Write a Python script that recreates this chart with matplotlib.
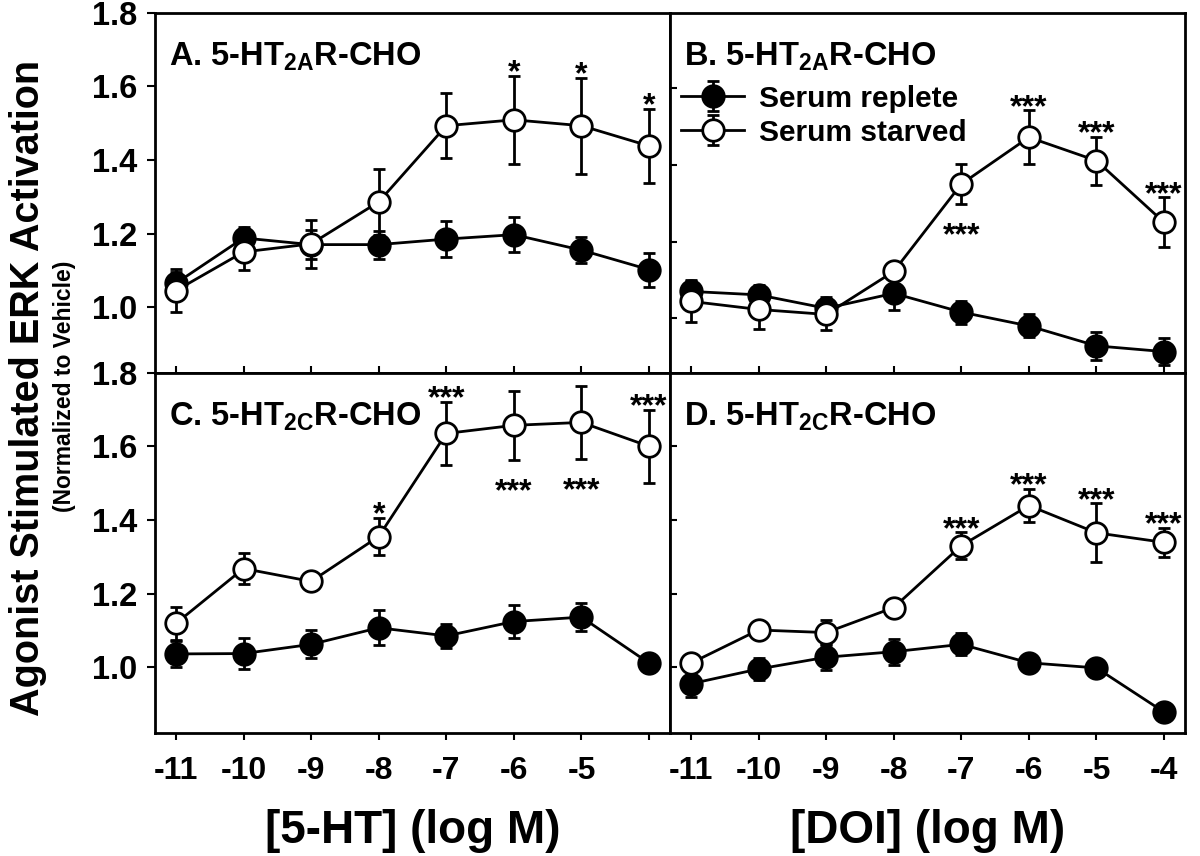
import matplotlib
matplotlib.use('Agg')
import matplotlib.pyplot as plt
from matplotlib import font_manager

# ---------------------------------------------------------------
# Data — x is log molar agonist concentration
# ---------------------------------------------------------------
dose = [-11, -10, -9, -8, -7, -6, -5, -4]

# A. 5-HT2A-CHO, 5-HT
a_replete     = [1.065, 1.188, 1.170, 1.170, 1.185, 1.197, 1.155, 1.102]
a_replete_err = [0.030, 0.030, 0.040, 0.038, 0.050, 0.048, 0.036, 0.046]
a_starved     = [1.045, 1.150, 1.172, 1.286, 1.493, 1.509, 1.493, 1.438]
a_starved_err = [0.058, 0.050, 0.065, 0.089, 0.088, 0.120, 0.130, 0.100]

# B. 5-HT2A-CHO, DOI
b_replete     = [1.070, 1.061, 1.026, 1.065, 1.016, 0.980, 0.928, 0.913]
b_replete_err = [0.028, 0.026, 0.030, 0.043, 0.030, 0.030, 0.036, 0.035]
b_starved     = [1.044, 1.023, 1.010, 1.122, 1.350, 1.472, 1.411, 1.250]
b_starved_err = [0.055, 0.050, 0.040, 0.010, 0.052, 0.070, 0.063, 0.065]

# C. 5-HT2C-CHO, 5-HT
c_replete     = [1.036, 1.037, 1.062, 1.107, 1.085, 1.124, 1.136, 1.011]
c_replete_err = [0.035, 0.043, 0.038, 0.048, 0.032, 0.045, 0.037, 0.025]
c_starved     = [1.119, 1.268, 1.233, 1.355, 1.635, 1.657, 1.665, 1.600]
c_starved_err = [0.045, 0.041, 0.010, 0.050, 0.085, 0.094, 0.100, 0.100]

# D. 5-HT2C-CHO, DOI
d_replete     = [0.955, 0.995, 1.027, 1.042, 1.062, 1.012, 0.998, 0.878]
d_replete_err = [0.035, 0.030, 0.035, 0.035, 0.030, 0.020, 0.020, 0.025]
d_starved     = [1.011, 1.101, 1.094, 1.162, 1.330, 1.439, 1.365, 1.339]
d_starved_err = [0.010, 0.010, 0.033, 0.020, 0.036, 0.045, 0.080, 0.040]

# significance marks on the starved series: (dose, text, above?)
a_stars = [(-6, '*', True), (-5, '*', True), (-4, '*', True)]
b_stars = [(-7, '***', False), (-6, '***', True), (-5, '***', True), (-4, '***', True)]
c_stars = [(-8, '*', True), (-7, '***', True), (-6, '***', False),
           (-5, '***', False), (-4, '***', True)]
d_stars = [(-7, '***', True), (-6, '***', True), (-5, '***', True), (-4, '***', True)]

titles = [r'A. 5-HT$_{\mathrm{2A}}$R-CHO', r'B. 5-HT$_{\mathrm{2A}}$R-CHO',
          r'C. 5-HT$_{\mathrm{2C}}$R-CHO', r'D. 5-HT$_{\mathrm{2C}}$R-CHO']
y_ticks = [1.0, 1.2, 1.4, 1.6, 1.8]
x_ticks = dose

# ---------------------------------------------------------------
# Fonts: condensed bold sans if there is one, else Liberation Sans
# ---------------------------------------------------------------
names = {f.name for f in font_manager.fontManager.ttflist}
FONT = 'Liberation Sans Narrow' if 'Liberation Sans Narrow' in names else 'Liberation Sans'

plt.rcParams['font.family'] = [FONT, 'DejaVu Sans']
plt.rcParams['font.weight'] = 'bold'
plt.rcParams['mathtext.fontset'] = 'custom'
plt.rcParams['mathtext.rm'] = f'{FONT}:bold'
plt.rcParams['mathtext.it'] = f'{FONT}:bold'
plt.rcParams['mathtext.bf'] = f'{FONT}:bold'
plt.rcParams['axes.linewidth'] = 2.0

# ---------------------------------------------------------------
# Layout (pixel frame of the 1200 x 856 picture)
# ---------------------------------------------------------------
W, H = 1200, 856
X_LEFT, X_MID, X_RIGHT = 155, 670, 1185
Y_TOP, Y_MID, Y_BOT = 12.7, 372.7, 732.7


def rect(x0, x1, y0, y1):
    return [x0 / W, 1 - y1 / H, (x1 - x0) / W, (y1 - y0) / H]


fig = plt.figure(figsize=(W / 100, H / 100), dpi=100)
ax_a = fig.add_axes(rect(X_LEFT, X_MID, Y_TOP, Y_MID))
ax_b = fig.add_axes(rect(X_MID, X_RIGHT, Y_TOP, Y_MID))
ax_c = fig.add_axes(rect(X_LEFT, X_MID, Y_MID, Y_BOT))
ax_d = fig.add_axes(rect(X_MID, X_RIGHT, Y_MID, Y_BOT))

panels = [
    (ax_a, a_replete, a_replete_err, a_starved, a_starved_err, a_stars, (0.822, 1.8)),
    (ax_b, b_replete, b_replete_err, b_starved, b_starved_err, b_stars, (0.858, 1.797)),
    (ax_c, c_replete, c_replete_err, c_starved, c_starved_err, c_stars, (0.822, 1.8)),
    (ax_d, d_replete, d_replete_err, d_starved, d_starved_err, d_stars, (0.822, 1.8)),
]

for i, (ax, rep, rep_e, sta, sta_e, stars, ylim) in enumerate(panels):
    ax.errorbar(dose, rep, yerr=rep_e, color='black', lw=2, marker='o', ms=15.5,
                mfc='black', mec='black', mew=2, capsize=4.5, capthick=2,
                elinewidth=2, label='Serum replete', zorder=3)
    ax.errorbar(dose, sta, yerr=sta_e, color='black', lw=2, marker='o', ms=15.5,
                mfc='white', mec='black', mew=2, capsize=4.5, capthick=2,
                elinewidth=2, label='Serum starved', zorder=4)

    for x, txt, above in stars:
        j = dose.index(x)
        if above:
            y, dy = sta[j] + sta_e[j], -4
        else:
            y, dy = sta[j] - sta_e[j], -29
        ax.annotate(txt, xy=(x, y), xytext=(0, dy), textcoords='offset points',
                    ha='center', va='baseline', fontsize=23,
                    family='Liberation Sans', fontweight='bold', zorder=5)

    ax.set_xlim(-11.31, -3.69)
    ax.set_ylim(*ylim)
    ax.set_xticks(x_ticks)
    ax.text(0.027, 0.852, titles[i], transform=ax.transAxes, fontsize=23.5,
            ha='left', va='baseline')

    top_row = i < 2
    left_col = i % 2 == 0
    if top_row:
        ax.tick_params(axis='x', direction='in', length=5, width=1.5,
                       labelbottom=False)
    else:
        ax.tick_params(axis='x', direction='out', length=5, width=1.5,
                       pad=12, labelsize=23)
        labels = [str(t) for t in x_ticks]
        if left_col:
            labels[-1] = ''
        ax.set_xticklabels(labels)
    if left_col:
        ax.set_yticks(y_ticks)
        ax.set_yticklabels([f'{v:.1f}' for v in y_ticks])
        ax.tick_params(axis='y', direction='out', length=6, width=1.5,
                       pad=7, labelsize=23.5)
    else:
        ax.set_yticks(y_ticks[:-1])
        ax.tick_params(axis='y', direction='in', length=5, width=1.5,
                       labelleft=False)

ax_b.legend(loc='upper left', bbox_to_anchor=(0.022, 0.80), frameon=False,
            fontsize=21.5, handlelength=2.1, handletextpad=0.5,
            labelspacing=0.2, borderpad=0, borderaxespad=0)

fig.text(28 / W, 1 - 388 / H, 'Agonist Stimulated ERK Activation', rotation=90,
         ha='center', va='center', fontsize=28.5)
fig.text(64 / W, 1 - 386 / H, '(Normalized to Vehicle)', rotation=90,
         ha='center', va='center', fontsize=16.5)
fig.text((X_LEFT + X_MID) / 2 / W, 1 - 843 / H, '[5-HT] (log M)',
         ha='center', va='baseline', fontsize=33)
fig.text((X_MID + X_RIGHT) / 2 / W, 1 - 843 / H, '[DOI] (log M)',
         ha='center', va='baseline', fontsize=33)

fig.savefig('out.png', dpi=100)
